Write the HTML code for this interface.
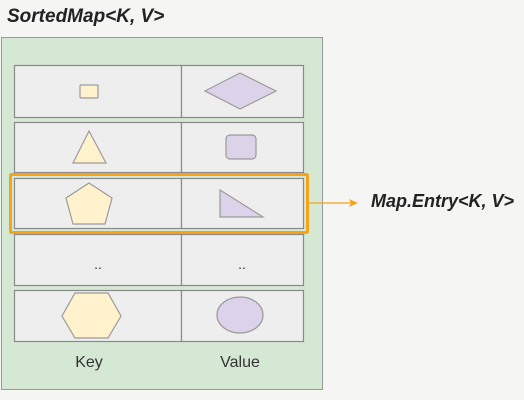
<!DOCTYPE html>
<html><head><style>body{margin:0;background:#f5f5f4;}</style></head><body>
<svg width="524" height="400" xmlns="http://www.w3.org/2000/svg" style="display:block">
<rect width="524" height="400" fill="#f5f5f4"/>
<text x="7" y="22" font-family="Liberation Sans, sans-serif" font-size="19" font-weight="bold" font-style="italic" fill="#222">SortedMap&lt;K, V&gt;</text>
<rect x="1.5" y="37.5" width="321" height="352" fill="#d5e8d4" stroke="#9a9a9a"/>
<g fill="#eeeeee" stroke="#8a8a8a" stroke-width="1.2">
<rect x="14.5" y="65.5" width="167" height="52"/><rect x="181.5" y="65.5" width="122" height="52"/>
<rect x="14.5" y="122.5" width="167" height="50"/><rect x="181.5" y="122.5" width="122" height="50"/>
<rect x="14.5" y="178.5" width="167" height="50"/><rect x="181.5" y="178.5" width="122" height="50"/>
<rect x="14.5" y="234.5" width="167" height="51"/><rect x="181.5" y="234.5" width="122" height="51"/>
<rect x="14.5" y="290.5" width="167" height="51"/><rect x="181.5" y="290.5" width="122" height="51"/>
</g>
<g stroke="#9a9a9a" stroke-width="1.2">
<rect x="80" y="85" width="18" height="13" rx="1" fill="#fff2cc"/>
<polygon points="205,91 240,73 276,91 240,109" fill="#dcd3ea"/>
<polygon points="89,131 106,163 73,163" fill="#fff2cc"/>
<rect x="226" y="135" width="30" height="24" rx="4" fill="#dcd3ea"/>
<polygon points="89,183 112,198 105,224 73,224 66,198" fill="#fff2cc"/>
<polygon points="220,190 263,217 220,217" fill="#dcd3ea"/>
<polygon points="75,293 108,293 121,316 108,338 75,338 62,316" fill="#fff2cc"/>
<ellipse cx="240" cy="315" rx="23" ry="18" fill="#dcd3ea"/>
</g>
<text x="98" y="269" font-family="Liberation Sans, sans-serif" font-size="14" fill="#333" text-anchor="middle">..</text>
<text x="242" y="269" font-family="Liberation Sans, sans-serif" font-size="14" fill="#333" text-anchor="middle">..</text>
<rect x="10.5" y="174.5" width="297" height="58" fill="none" stroke="#f7a21b" stroke-width="3" rx="1"/>
<line x1="309" y1="203" x2="352" y2="203" stroke="#f7a21b" stroke-width="1.3"/>
<polygon points="358,203 349,199 351,203 349,207" fill="#f7a21b"/>
<text x="371" y="207" font-family="Liberation Sans, sans-serif" font-size="18" font-weight="bold" font-style="italic" fill="#222">Map.Entry&lt;K, V&gt;</text>
<text x="89" y="367" font-family="Liberation Sans, sans-serif" font-size="16" fill="#333" text-anchor="middle">Key</text>
<text x="240" y="367" font-family="Liberation Sans, sans-serif" font-size="16" fill="#333" text-anchor="middle">Value</text>
</svg>
</body></html>
